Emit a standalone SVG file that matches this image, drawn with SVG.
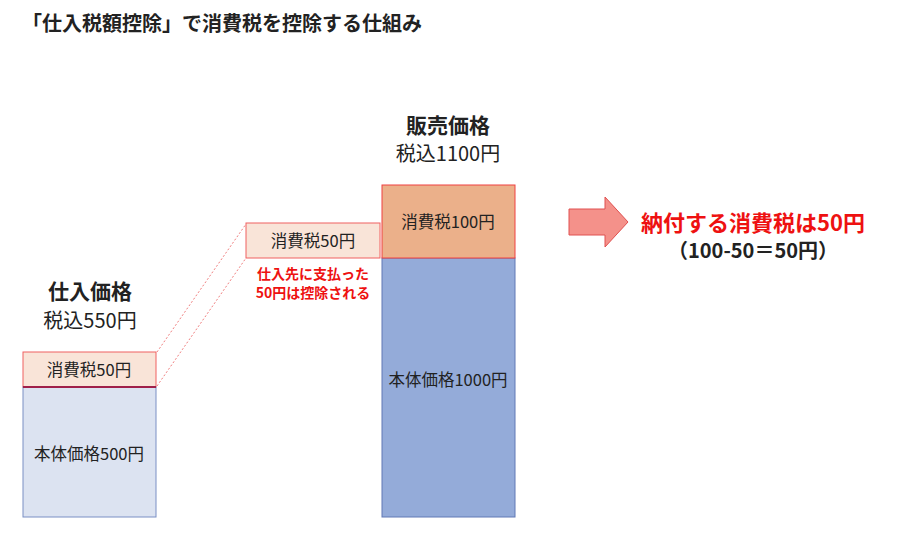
<svg xmlns="http://www.w3.org/2000/svg" width="900" height="533" viewBox="0 0 900 533">
<style>
text{font-family:"Noto Sans CJK JP","Noto Sans",sans-serif;fill:#222}
.b{font-weight:bold}
.r{fill:#ee1111;font-weight:bold}
.lbl{font-size:16.5px;text-anchor:middle}
</style>
<rect width="900" height="533" fill="#fff"/>
<text x="22" y="31" font-size="20" class="b">「仕入税額控除」で消費税を控除する仕組み</text>
<g id="connectors" stroke="#f08080" stroke-width="1" stroke-dasharray="2,2" fill="none">
<line x1="157" y1="352" x2="246" y2="224"/>
<line x1="157" y1="386" x2="246" y2="258"/>
</g>
<g id="purchase">
<text x="90" y="299" font-size="21" class="b" text-anchor="middle">仕入価格</text>
<text x="90" y="328" font-size="20" text-anchor="middle">税込550円</text>
<rect x="23" y="352" width="133" height="35" fill="#f9e4d8" stroke="#f06060"/>
<text x="89" y="376" class="lbl">消費税50円</text>
<rect x="23" y="387" width="133" height="130" fill="#dce3f1" stroke="#7a8fc4"/>
<line x1="23" y1="387" x2="156" y2="387" stroke="#a0204a" stroke-width="2"/>
<text x="89" y="460" class="lbl">本体価格500円</text>
</g>
<g id="deducted">
<rect x="246" y="223" width="134" height="35" fill="#f9e4d8" stroke="#f06060"/>
<text x="313" y="247" class="lbl">消費税50円</text>
<text x="313" y="279" font-size="14" class="r" text-anchor="middle">仕入先に支払った</text>
<text x="313" y="298" font-size="14" class="r" text-anchor="middle">50円は控除される</text>
</g>
<g id="sale">
<text x="448" y="133" font-size="21" class="b" text-anchor="middle">販売価格</text>
<text x="448" y="161" font-size="20" text-anchor="middle">税込1100円</text>
<rect x="382" y="258" width="133" height="259" fill="#94abd9" stroke="#6079b5"/>
<rect x="382" y="185" width="133" height="73" fill="#ebb08a" stroke="#f04040"/>
<text x="448" y="228" class="lbl">消費税100円</text>
<text x="448" y="386" class="lbl">本体価格1000円</text>
</g>
<g id="result">
<polygon points="569,209 605,209 605,197 628,222 605,247 605,235 569,235" fill="#f4918a" stroke="#e05050"/>
<text x="753" y="231" font-size="22" class="r" text-anchor="middle">納付する消費税は50円</text>
<text x="753" y="258" font-size="20" class="b" text-anchor="middle">（100-50＝50円）</text>
</g>
</svg>
